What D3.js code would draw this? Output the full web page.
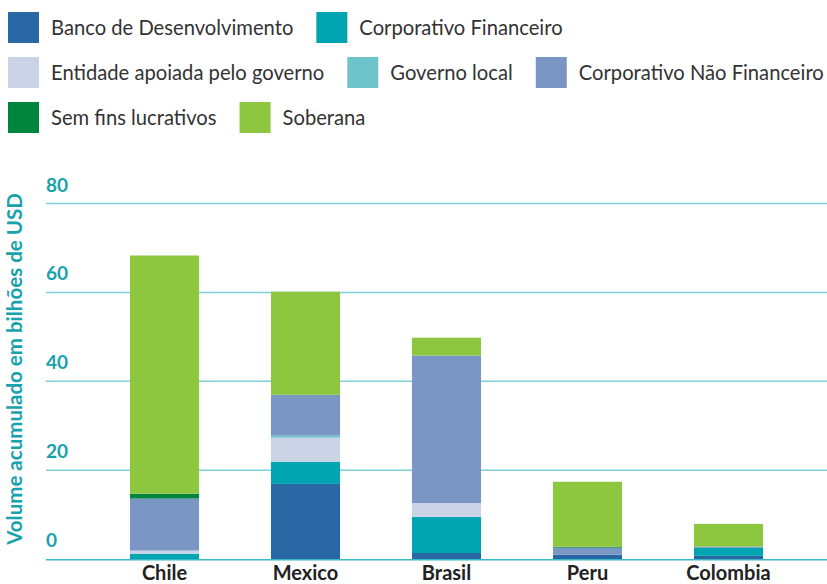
<!DOCTYPE html>
<html>
<head>
<meta charset="utf-8">
<script src="https://cdn.jsdelivr.net/npm/d3@7"></script>
<style>
    body { margin: 0; background: #fff; }
    text { font-family: Lato, "Noto Sans", sans-serif; }
</style>
</head>
<body>
<script>
// chart values
var countries = ['Chile', 'Mexico', 'Brasil', 'Peru', 'Colombia'];
var categories = [
    'Banco de Desenvolvimento',
    'Corporativo Financeiro',
    'Entidade apoiada pelo governo',
    'Governo local',
    'Corporativo Não Financeiro',
    'Sem fins lucrativos',
    'Soberana'
];
var banco = [0, 16.9, 1.35, 0.95, 0.7];
var corpFin = [1.2, 5.0, 8.1, 0, 1.8];
var entidade = [0.7, 5.4, 3.15, 0, 0];
var governoLocal = [0, 0.45, 0, 0, 0];
var corpNaoFin = [11.7, 9.2, 33.2, 1.6, 0.3];
var semFins = [1.1, 0, 0, 0.23, 0];
var soberana = [53.6, 23.2, 4.0, 14.6, 5.1];
var yTicks = [0, 20, 40, 60, 80];
var yTitle = 'Volume acumulado em bilhões de USD';

var colors = ['#2a67a5', '#00a5b1', '#cbd4e6', '#6fc3cb', '#7a96c4', '#00853f', '#8dc63f'];

window.onload = function () {
    var w = 827,
        h = 584;

    var svg = d3.select('body')
        .append('svg')
        .attr('width', w)
        .attr('height', h);

    // build rows for the stack
    var series = [banco, corpFin, entidade, governoLocal, corpNaoFin, semFins, soberana];
    var table = countries.map(function (c, i) {
        var row = { country: c };
        categories.forEach(function (k, j) {
            row[k] = series[j][i];
        });
        return row;
    });
    var stacked = d3.stack().keys(categories)(table);

    var x = d3.scaleBand()
        .domain(countries)
        .range([94, 799])
        .paddingInner(0.51)
        .paddingOuter(0.255);

    var y = d3.scaleLinear()
        .domain([0, 80])
        .range([559, 203.5]);

    // gridlines (behind the bars)
    svg.append('g')
        .attr('class', 'grid')
        .selectAll('line')
        .data(yTicks.slice(1))
        .enter()
        .append('line')
        .attr('x1', 46)
        .attr('x2', w)
        .attr('y1', function (d) { return y(d); })
        .attr('y2', function (d) { return y(d); })
        .style('stroke', '#7dd0d6')
        .style('stroke-width', 1.5);

    // tick labels sit above their lines
    svg.append('g')
        .selectAll('text')
        .data(yTicks)
        .enter()
        .append('text')
        .attr('x', 46)
        .attr('y', function (d) { return y(d) - 12; })
        .text(function (d) { return d; })
        .style('font-size', '19px')
        .style('font-weight', 'bold')
        .style('fill', '#17a2ad');

    svg.append('text')
        .attr('transform', 'translate(22, 369) rotate(-90)')
        .attr('text-anchor', 'middle')
        .text(yTitle)
        .style('font-size', '20.5px')
        .style('font-weight', 'bold')
        .style('fill', '#17a2ad');

    // stacked bars
    svg.append('g')
        .selectAll('g')
        .data(stacked)
        .enter()
        .append('g')
        .style('fill', function (d, i) { return colors[i]; })
        .selectAll('rect')
        .data(function (d) { return d; })
        .enter()
        .append('rect')
        .attr('x', function (d) { return x(d.data.country); })
        .attr('width', x.bandwidth())
        .attr('y', function (d) { return y(d[1]); })
        .attr('height', function (d) { return y(d[0]) - y(d[1]); });

    // zero line on top
    svg.append('line')
        .attr('x1', 46)
        .attr('x2', w)
        .attr('y1', y(0) + 0.8)
        .attr('y2', y(0) + 0.8)
        .style('stroke', '#3bb8c6')
        .style('stroke-width', 1.5);

    var xAxis = d3.axisBottom(x).tickSize(0).tickPadding(0);
    var gx = svg.append('g')
        .attr('transform', 'translate(0, 566)')
        .call(xAxis);
    gx.select('.domain').remove();
    gx.selectAll('text')
        .attr('dy', '0.71em')
        .style('font-family', 'Lato, "Noto Sans", sans-serif')
        .style('font-size', '20px')
        .style('font-weight', 'bold')
        .style('fill', '#222');

    // legend, three rows flowing left to right
    var rows = [[0, 1], [2, 3, 4], [5, 6]];
    var legend = svg.append('g').attr('class', 'legend');
    rows.forEach(function (row, r) {
        var cx = 8;
        var top = 12 + r * 45;
        row.forEach(function (k) {
            legend.append('rect')
                .attr('x', cx)
                .attr('y', top)
                .attr('width', 31)
                .attr('height', 31)
                .style('fill', colors[k]);
            var t = legend.append('text')
                .attr('x', cx + 43)
                .attr('y', top + 15.5)
                .attr('dy', '0.36em')
                .text(categories[k])
                .style('font-size', '20.2px')
                .style('fill', '#333');
            cx = cx + 43 + t.node().getComputedTextLength() + 23;
        });
    });
};
</script>
</body>
</html>
